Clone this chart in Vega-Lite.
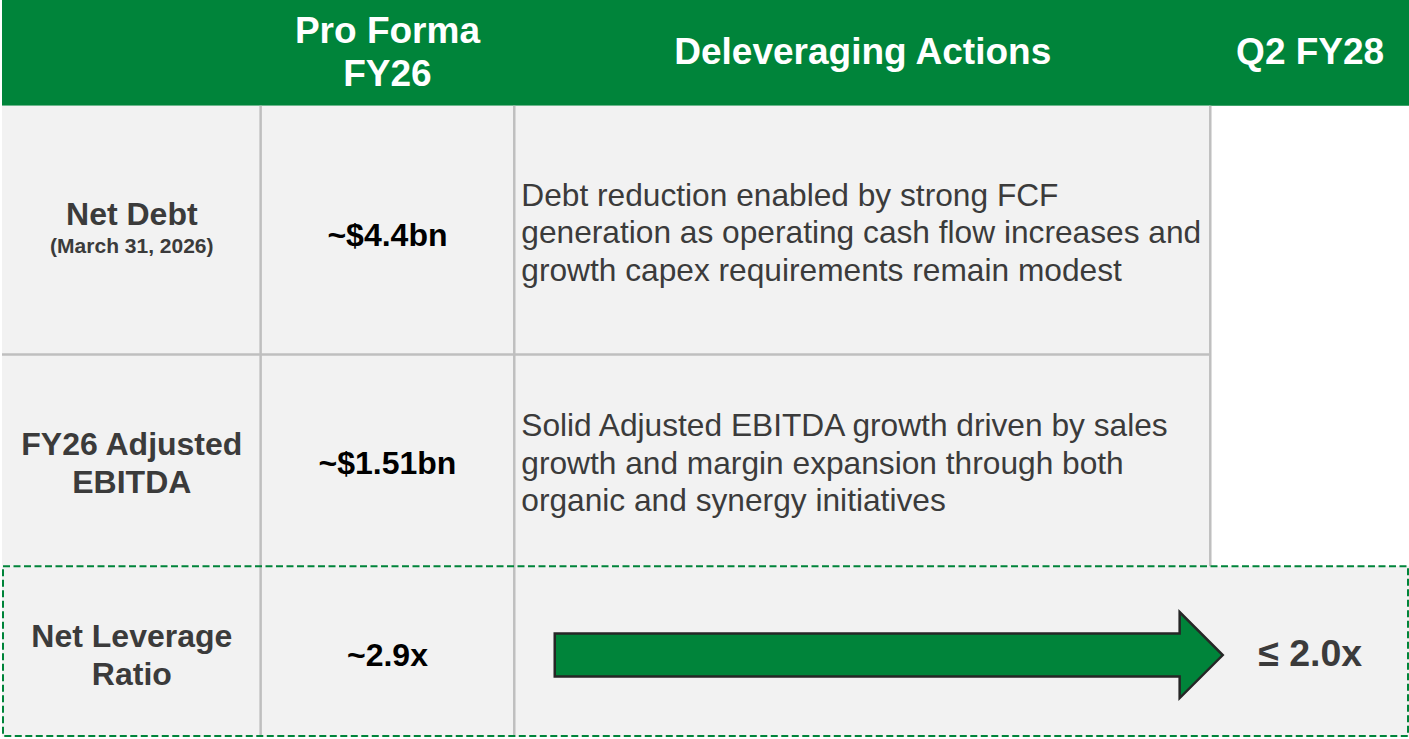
{
  "$schema": "https://vega.github.io/schema/vega-lite/v6.json",
  "width": 1409,
  "height": 739,
  "padding": 0,
  "autosize": {"type": "fit", "contains": "padding"},
  "background": "white",
  "config": {"view": {"stroke": null}},
  "datasets": {
    "cells": [
      {"part": "header", "x": 0, "x2": 1409, "y": 0, "y2": 106},
      {"part": "body", "x": 0, "x2": 1210, "y": 106, "y2": 567},
      {"part": "body", "x": 0, "x2": 1409, "y": 567, "y2": 738}
    ],
    "rules": [
      {"x": 259, "x2": 259, "y": 106, "y2": 738},
      {"x": 513, "x2": 513, "y": 106, "y2": 738},
      {"x": 1210, "x2": 1210, "y": 106, "y2": 567},
      {"x": 0, "x2": 1210, "y": 355, "y2": 355}
    ],
    "texts": [
      {"role": "header", "text": "Pro Forma\nFY26", "x": 386, "y": 32},
      {"role": "header", "text": "Deleveraging Actions", "x": 862, "y": 53},
      {"role": "header", "text": "Q2 FY28", "x": 1310, "y": 53},
      {"role": "label", "text": "Net Debt", "x": 130, "y": 215},
      {"role": "note", "text": "(March 31, 2026)", "x": 130, "y": 247},
      {"role": "label", "text": "FY26 Adjusted\nEBITDA", "x": 130, "y": 446},
      {"role": "label", "text": "Net Leverage\nRatio", "x": 130, "y": 638},
      {"role": "value", "text": "~$4.4bn", "x": 386, "y": 236},
      {"role": "value", "text": "~$1.51bn", "x": 386, "y": 465},
      {"role": "value", "text": "~2.9x", "x": 386, "y": 657},
      {"role": "desc", "text": "Debt reduction enabled by strong FCF\ngeneration as operating cash flow increases and\ngrowth capex requirements remain modest", "x": 520, "y": 196},
      {"role": "desc", "text": "Solid Adjusted EBITDA growth driven by sales\ngrowth and margin expansion through both\norganic and synergy initiatives", "x": 520, "y": 427},
      {"role": "result", "text": "≤ 2.0x", "x": 1310, "y": 656}
    ],
    "arrow": [{"x": 888, "y": 656}],
    "frame": [{"x": 1, "x2": 1408, "y": 567, "y2": 737}]
  },
  "encoding": {
    "x": {"field": "x", "type": "quantitative", "scale": {"domain": [0, 1409], "nice": false, "zero": false}, "axis": null},
    "y": {"field": "y", "type": "quantitative", "scale": {"domain": [0, 739], "reverse": true, "nice": false, "zero": false}, "axis": null}
  },
  "layer": [
    {
      "data": {"name": "cells"},
      "mark": {"type": "rect"},
      "encoding": {
        "x2": {"field": "x2"},
        "y2": {"field": "y2"},
        "color": {"field": "part", "type": "nominal", "scale": {"domain": ["header", "body"], "range": ["#00843A", "#F2F2F2"]}, "legend": null}
      }
    },
    {
      "data": {"name": "rules"},
      "mark": {"type": "rule", "color": "#BFBFBF", "strokeWidth": 2.5},
      "encoding": {"x2": {"field": "x2"}, "y2": {"field": "y2"}}
    },
    {
      "data": {"name": "texts"},
      "transform": [{"filter": "datum.role === 'header'"}],
      "mark": {"type": "text", "font": "Liberation Sans", "fontWeight": "bold", "fontSize": 37, "color": "#FFFFFF", "align": "center", "baseline": "middle", "lineBreak": "\n", "lineHeight": 43},
      "encoding": {"text": {"field": "text"}}
    },
    {
      "data": {"name": "texts"},
      "transform": [{"filter": "datum.role === 'label'"}],
      "mark": {"type": "text", "font": "Liberation Sans", "fontWeight": "bold", "fontSize": 32, "color": "#3B3B3B", "align": "center", "baseline": "middle", "lineBreak": "\n", "lineHeight": 37.5},
      "encoding": {"text": {"field": "text"}}
    },
    {
      "data": {"name": "texts"},
      "transform": [{"filter": "datum.role === 'note'"}],
      "mark": {"type": "text", "font": "Liberation Sans", "fontWeight": "bold", "fontSize": 21, "color": "#3B3B3B", "align": "center", "baseline": "middle"},
      "encoding": {"text": {"field": "text"}}
    },
    {
      "data": {"name": "texts"},
      "transform": [{"filter": "datum.role === 'value'"}],
      "mark": {"type": "text", "font": "Liberation Sans", "fontWeight": "bold", "fontSize": 32, "color": "#000000", "align": "center", "baseline": "middle"},
      "encoding": {"text": {"field": "text"}}
    },
    {
      "data": {"name": "texts"},
      "transform": [{"filter": "datum.role === 'desc'"}],
      "mark": {"type": "text", "font": "Liberation Sans", "fontWeight": "normal", "fontSize": 31.7, "color": "#3B3B3B", "align": "left", "baseline": "middle", "lineBreak": "\n", "lineHeight": 37.5},
      "encoding": {"text": {"field": "text"}}
    },
    {
      "data": {"name": "texts"},
      "transform": [{"filter": "datum.role === 'result'"}],
      "mark": {"type": "text", "font": "Liberation Sans", "fontWeight": "bold", "fontSize": 37.5, "color": "#3B3B3B", "align": "center", "baseline": "middle"},
      "encoding": {"text": {"field": "text"}}
    },
    {
      "data": {"name": "arrow"},
      "mark": {"type": "point", "filled": true, "opacity": 1, "fill": "#00843A", "fillOpacity": 1, "stroke": "#262626", "strokeWidth": 2.5, "size": 446224, "shape": "M-1,-0.0644L0.871,-0.0644L0.871,-0.1287L1,0L0.871,0.1287L0.871,0.0644L-1,0.0644Z"},
      "encoding": {}
    },
    {
      "data": {"name": "frame"},
      "mark": {"type": "rect", "fillOpacity": 0, "stroke": "#00843A", "strokeWidth": 2, "strokeDash": [7, 3.5]},
      "encoding": {"x2": {"field": "x2"}, "y2": {"field": "y2"}}
    }
  ]
}
